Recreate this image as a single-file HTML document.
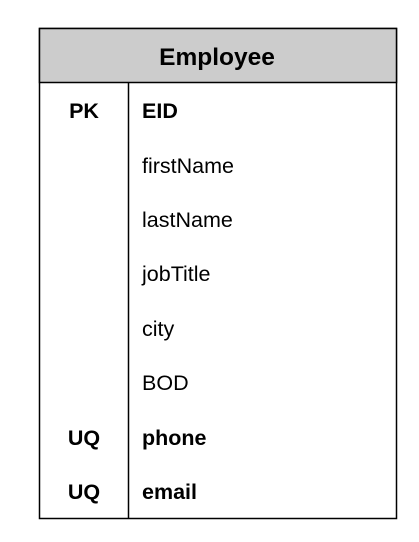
<!DOCTYPE html>
<html><head><meta charset="utf-8"><style>
html,body{margin:0;padding:0;background:#fff;width:419px;height:542px;overflow:hidden}
</style></head><body>
<svg width="419" height="542" xmlns="http://www.w3.org/2000/svg" font-family="Liberation Sans, Arial, sans-serif">
<rect x="39.5" y="28.5" width="357" height="490" fill="#fff" stroke="#000" stroke-width="1.5"/>
<rect x="39.5" y="28.5" width="357" height="54" fill="#cccccc" stroke="#000" stroke-width="1.5"/>
<line x1="128.5" y1="82.5" x2="128.5" y2="518.5" stroke="#000" stroke-width="1.5"/>
<text x="217" y="65" font-size="24.5" font-weight="bold" text-anchor="middle">Employee</text>
<g font-size="21.5" font-weight="bold" text-anchor="middle">
<text x="84" y="118">PK</text>
<text x="84" y="445">UQ</text>
<text x="84" y="499">UQ</text>
</g>
<g font-size="21.5">
<text x="142" y="118" font-weight="bold">EID</text>
<text x="142" y="173">firstName</text>
<text x="142" y="227">lastName</text>
<text x="142" y="281">jobTitle</text>
<text x="142" y="336">city</text>
<text x="142" y="390">BOD</text>
<text x="142" y="445" font-weight="bold">phone</text>
<text x="142" y="499" font-weight="bold">email</text>
</g>
</svg>
</body></html>
